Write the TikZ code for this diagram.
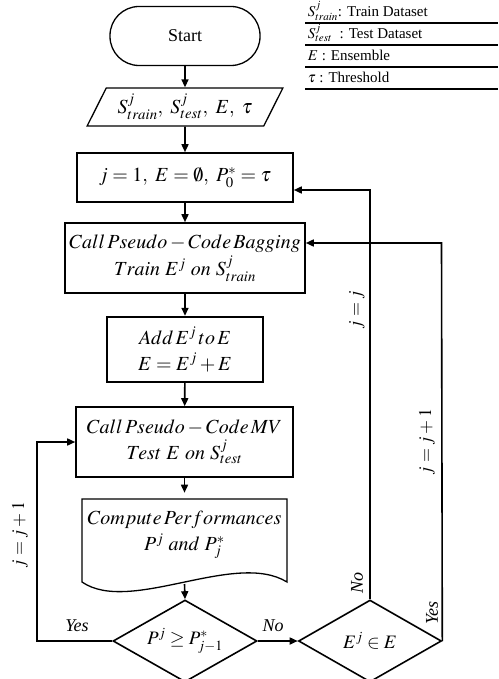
\documentclass[tikz,border=0pt]{standalone}
\usepackage{mathptmx}
\usepackage[no-math]{fontspec}
\setmainfont{Liberation Serif}
\usetikzlibrary{shapes.geometric,arrows.meta}

\begin{document}
\begin{tikzpicture}[x=1pt,y=-1pt,line width=1.6pt,
		box/.style={draw,rectangle,align=center,inner sep=1pt,font=\fontsize{20}{23}\selectfont},
		arr/.style={-{Triangle[length=8pt,width=7pt]}},
		lab/.style={font=\fontsize{18}{21}\selectfont\itshape},
		legend/.style={anchor=west,inner sep=1pt,font=\fontsize{15}{17}\selectfont}]
	\useasboundingbox (0,0) rectangle (498,679);
	
	% Shapes
	\node[box,line width=1.3pt,rounded corners=29pt,minimum width=150pt,minimum height=59pt,font=\fontsize{18}{21}\selectfont] (start) at (185,36) {Start};
	\node[box,line width=1.3pt,trapezium,trapezium left angle=59,trapezium right angle=121,trapezium stretches=true,minimum width=196pt,minimum height=38pt] (input) at (185,107) {$S^{j}_{train},\ S^{j}_{test},\ E,\ \tau$};
	\node[box,minimum width=216pt,minimum height=49pt] (init) at (185,177.5) {$j=1,\ E=\emptyset,\ P^{*}_{0}=\tau$};
	\node[box,minimum width=240pt,minimum height=70pt] (bag) at (185,258) {$Call\,Pseudo-Code\,Bagging$\\[3pt]$Train\ E^{j}\ on\ S^{j}_{train}$};
	\node[box,line width=2.4pt,minimum width=156pt,minimum height=65pt] (add) at (185,349.5) {$Add\,E^{j}\,to\,E$\\[3pt]$E=E^{j}+E$};
	\node[box,minimum width=217pt,minimum height=70pt] (mv) at (184.5,442) {$Call\,Pseudo-Code\,MV$\\[3pt]$Test\ E\ on\ S^{j}_{test}$};
	\node[box,draw=none,minimum width=205pt,minimum height=83pt] (perf) at (184.5,535) {$Compute\,Performances$\\[3pt]$P^{j}\ and\ P^{*}_{j}$};
	\draw[line width=1.3pt] (82,499) -- (287,499) -- (287,582) .. controls (235,550) and (130,615) .. (82,582) -- cycle;
	\coordinate (wave) at (184.5,584);
	\node[box,diamond,aspect=1.76,inner sep=0pt,minimum width=144pt,minimum height=82pt,font=\fontsize{19}{22}\selectfont] (cmp) at (185,641) {$P^{j}\geq P^{*}_{j-1}$};
	\node[box,diamond,aspect=1.76,inner sep=0pt,minimum width=143pt,minimum height=82pt,font=\fontsize{19}{22}\selectfont] (member) at (370,641) {$E^{j}\in E$};
	
	% Connectors
	\coordinate (yesbot) at (37,641);
	\coordinate (yestop) at (37,442);
	\coordinate (notop) at (370,190);
	\coordinate (outtop) at (441.5,243);
	\draw[arr] (start) -- (input);
	\draw[arr] (input) -- (init);
	\draw[arr] (init) -- (bag);
	\draw[arr] (bag) -- (add);
	\draw[arr] (add) -- (mv);
	\draw[arr] (mv) -- (perf.north);
	\draw[arr] (wave) -- (cmp.north);
	\draw[arr] (cmp.east) -- (member.west);
	\draw[arr] (cmp.west) -- (yesbot) -- (yestop) -- (mv.west);
	\draw[arr] (member.north) -- (notop) -- (notop -| init.east);
	\draw[arr] (member.east) -- (outtop) -- (outtop -| bag.east);
	
	% Labels
	\node[lab] (yesl) at (77,626) {Yes};
	\node[lab] (nol) at (273,626) {No};
	\node[lab,rotate=90] (nou) at (357,583) {No};
	\node[lab,rotate=90] (yesr) at (432,613) {Yes};
	\node[lab,rotate=90] (incl) at (20,535) {$j=j+1$};
	\node[lab,rotate=90] (same) at (357,310) {$j=j$};
	\node[lab,rotate=90] (incr) at (427,442) {$j=j+1$};
	
	% Legend
	\node[legend] (ltrain) at (306,11) {$S^{j}_{train}$: Train Dataset};
	\node[legend] (ltest) at (306,33) {$S^{j}_{test}$\ \ : Test Dataset};
	\node[legend] (lens) at (306,55) {$E$ : Ensemble};
	\node[legend] (lthr) at (306,77) {$\tau$ : Threshold};
	\foreach \y in {23,45,67,89} {
		\draw[line width=2.2pt] (305,\y) -- (498,\y);
	}
\end{tikzpicture}
\end{document}
